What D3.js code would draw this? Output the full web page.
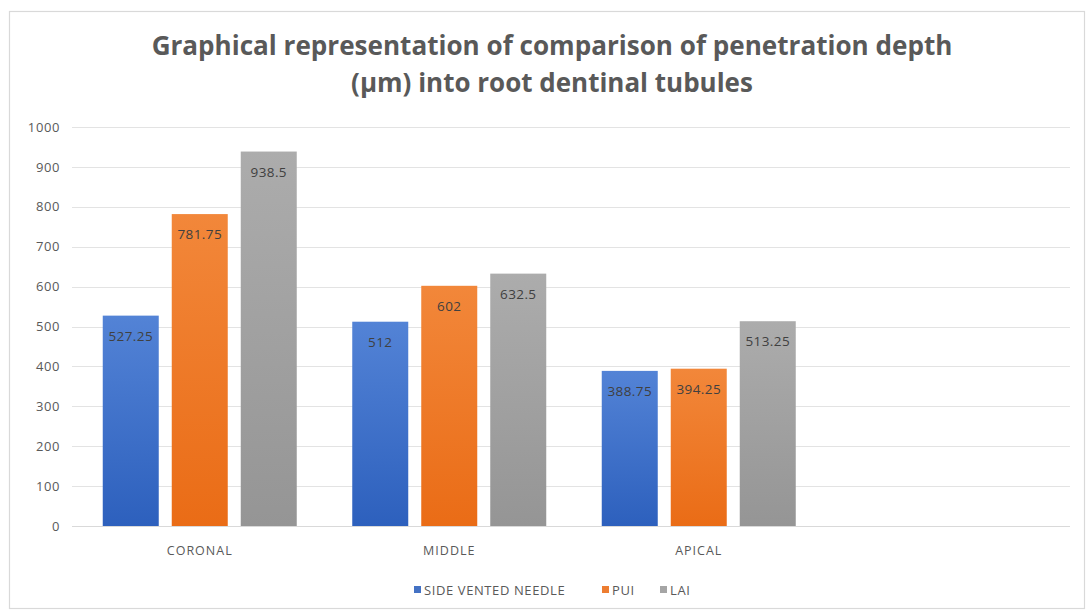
<!DOCTYPE html>
<html>
<head>
<meta charset="utf-8">
<script src="https://cdn.jsdelivr.net/npm/d3@7"></script>
<style>
  html, body { margin: 0; padding: 0; background: #fff; }
  svg { display: block; }
  text { font-family: "Open Sans", "Noto Sans", sans-serif; }
</style>
</head>
<body>
<svg id="chart" width="1088" height="611"></svg>
<script>
// Penetration depth (µm) by root third, per irrigation technique
const categories = ["CORONAL", "MIDDLE", "APICAL", ""];
const seriesNames = ["SIDE VENTED NEEDLE", "PUI", "LAI"];
const sideVentedNeedle = [527.25, 512, 388.75, null];
const pui = [781.75, 602, 394.25, null];
const lai = [938.5, 632.5, 513.25, null];
const yTicks = [0, 100, 200, 300, 400, 500, 600, 700, 800, 900, 1000];
const titleLines = [
  "Graphical representation of comparison of penetration depth",
  "(µm) into root dentinal tubules"
];

const seriesValues = [sideVentedNeedle, pui, lai];
const colors = [
  { top: "#5383d6", bottom: "#2d60bd", key: "#4472c4" },
  { top: "#f2873a", bottom: "#ea6c16", key: "#ed7d31" },
  { top: "#acacac", bottom: "#959595", key: "#a5a5a5" }
];

const svg = d3.select("#chart");
const W = 1088, H = 611;
const plot = { left: 75, right: 1073, top: 127, bottom: 526 };

// chart frame
svg.append("rect")
  .attr("x", 9.5).attr("y", 11.5)
  .attr("width", 1075).attr("height", 597)
  .attr("fill", "#fff").attr("stroke", "#d9d9d9").attr("stroke-width", 1.2);

// gradients
const defs = svg.append("defs");
colors.forEach((c, i) => {
  const g = defs.append("linearGradient")
    .attr("id", "grad" + i)
    .attr("x1", 0).attr("y1", 0).attr("x2", 0).attr("y2", 1);
  g.append("stop").attr("offset", "0%").attr("stop-color", c.top);
  g.append("stop").attr("offset", "100%").attr("stop-color", c.bottom);
});

// title
const title = svg.append("g").attr("class", "title");
const titleY = [55, 92];
const titleWidths = [801, 402];
titleLines.forEach((t, i) => {
  const el = title.append("text")
    .attr("x", 552).attr("y", titleY[i])
    .attr("text-anchor", "middle")
    .attr("font-size", 24).attr("font-weight", 700)
    .attr("fill", "#595959")
    .text(t);
  const len = el.node().getComputedTextLength();
  el.attr("font-size", 24 * titleWidths[i] / len);
});

// scales
const x = d3.scaleBand().domain(categories.map((c, i) => i))
  .range([plot.left, plot.right]).paddingInner(0).paddingOuter(0);
const y = d3.scaleLinear().domain([0, 1000]).range([plot.bottom, plot.top]);

// gridlines
svg.append("g")
  .selectAll("line").data(yTicks.filter(d => d > 0)).join("line")
  .attr("x1", plot.left - 3).attr("x2", plot.right - 3)
  .attr("y1", d => Math.round(y(d)) + 0.5).attr("y2", d => Math.round(y(d)) + 0.5)
  .attr("stroke", "#e3e3e3").attr("stroke-width", 1.2);

// y axis labels
const yAxis = d3.axisLeft(y).tickValues(yTicks).tickFormat(d3.format("d"))
  .tickSize(0).tickPadding(0);
const yg = svg.append("g").attr("transform", `translate(${plot.left - 15},0)`).call(yAxis);
yg.select(".domain").remove();
yg.selectAll("text")
  .attr("font-size", 13).attr("fill", "#595959")
  .attr("letter-spacing", 0.6)
  .attr("font-family", "'Open Sans', sans-serif");

// bars
const barW = 56, step = 69;
const groupW = step * 2 + barW;
const inner = d3.scaleBand().domain(seriesNames.map((s, i) => i))
  .range([0, groupW]).paddingInner((step - barW) / step);

const rows = [];
seriesValues.forEach((vals, s) => {
  vals.forEach((v, c) => { if (v != null) rows.push({ s, c, v }); });
});

const barsG = svg.append("g");
barsG.selectAll("rect").data(rows).join("rect")
  .attr("x", d => x(d.c) + (x.bandwidth() - groupW) / 2 + inner(d.s))
  .attr("width", inner.bandwidth())
  .attr("y", d => y(d.v))
  .attr("height", d => y(0) - y(d.v))
  .attr("fill", d => `url(#grad${d.s})`);

// value labels, inside the bar end
barsG.selectAll("text").data(rows).join("text")
  .attr("x", d => x(d.c) + (x.bandwidth() - groupW) / 2 + inner(d.s) + inner.bandwidth() / 2)
  .attr("y", d => y(d.v) + 25)
  .attr("text-anchor", "middle")
  .attr("font-size", 13.5).attr("fill", "#404040")
  .attr("letter-spacing", 0.4)
  .text(d => d.v);

// baseline
svg.append("line")
  .attr("x1", plot.left - 3).attr("x2", plot.right - 3)
  .attr("y1", plot.bottom + 0.5).attr("y2", plot.bottom + 0.5)
  .attr("stroke", "#d9d9d9").attr("stroke-width", 1.2);

// category labels
const xAxis = d3.axisBottom(x).tickFormat(i => categories[i]).tickSize(0).tickPadding(0);
const xg = svg.append("g").attr("transform", `translate(0,${plot.bottom + 20})`).call(xAxis);
xg.select(".domain").remove();
xg.selectAll("text")
  .attr("font-size", 12.5).attr("fill", "#595959")
  .attr("letter-spacing", 1)
  .attr("font-family", "'Open Sans', sans-serif");

// legend
const legendItems = [
  { name: seriesNames[0], x: 414 },
  { name: seriesNames[1], x: 602 },
  { name: seriesNames[2], x: 660 }
];
const lg = svg.append("g").attr("transform", "translate(0,590)");
legendItems.forEach((it, i) => {
  lg.append("rect")
    .attr("x", it.x).attr("y", -4).attr("width", 7).attr("height", 7)
    .attr("fill", colors[i].key);
  lg.append("text")
    .attr("x", it.x + 10).attr("y", 5)
    .attr("font-size", 13).attr("fill", "#595959")
    .attr("letter-spacing", 0.6)
    .text(it.name);
});
</script>
</body>
</html>
